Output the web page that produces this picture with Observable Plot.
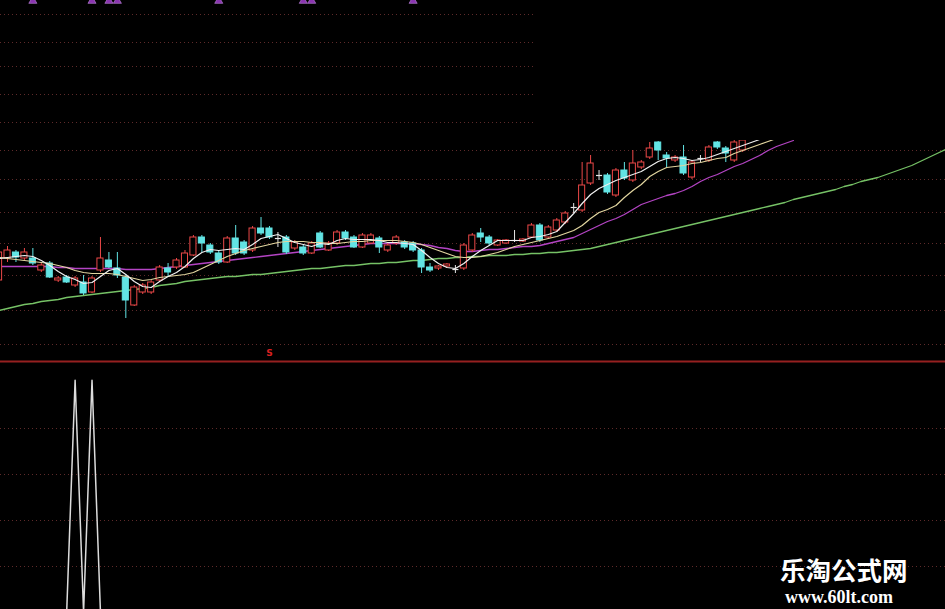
<!DOCTYPE html>
<html><head><meta charset="utf-8">
<script src="https://cdn.jsdelivr.net/npm/d3@7"></script>
<script src="https://cdn.jsdelivr.net/npm/@observablehq/plot@0.6"></script>
<style>
html,body{margin:0;padding:0;background:#000;}
#wrap{position:relative;width:945px;height:609px;overflow:hidden;background:#000;}
#wrap svg{display:block;overflow:hidden;}
.wm1{position:absolute;left:780px;top:556px;font-family:"Noto Sans CJK SC";font-weight:700;font-size:25.5px;line-height:1;color:#fff;white-space:nowrap;}
.wm2{position:absolute;left:785px;top:588px;font-family:"Liberation Serif","DejaVu Serif",serif;font-weight:700;font-size:18px;line-height:1;color:#fff;white-space:nowrap;}
</style></head>
<body>
<div id="wrap"></div>
<script>
// ---- price panel data (index = trading day) ----
const candleStart = -1;
const opens = [8.0,10.2,10.8,10.2,10.2,9.0,9.7,8.0,8.3,7.5,
 7.8,6.8,9.0,10.0,9.2,8.3,5.5,6.8,6.8,8.0,
 9.2,9.3,9.3,10.5,12.3,11.5,10.7,9.8,12.2,11.8,
 11.0,13.2,13.2,12.2,12.3,11.2,11.3,10.7,12.7,11.0,
 11.7,12.8,12.3,11.3,11.7,12.2,11.0,11.7,11.8,11.7,
 11.0,9.3,9.2,9.4,9.1,9.2,11.0,12.7,12.3,11.5,
 11.7,12.0,11.9,12.3,13.5,12.3,13.0,13.8,15.3,15.0,
 17.7,18.5,18.5,16.5,19.0,18.0,19.3,20.3,21.8,20.5,
 20.0,20.3,18.3,20.2,20.0,21.8,21.2,20.0,21.0];
const highs = [11.2,11.4,11.0,11.2,11.2,9.7,9.9,8.4,8.5,8.4,
 8.5,8.4,12.3,10.8,10.8,8.5,7.5,7.7,8.0,9.5,
 9.7,10.2,11.0,12.5,12.5,11.7,10.9,12.4,13.5,12.0,
 13.4,14.3,13.4,12.8,12.5,12.0,11.5,11.9,12.9,11.9,
 13.0,13.0,12.5,12.7,12.7,12.4,11.7,12.5,12.0,11.9,
 11.2,9.7,9.5,9.7,9.5,11.7,12.7,13.2,12.5,12.1,
 12.1,13.0,12.2,13.7,13.7,13.5,14.2,14.9,15.7,19.8,
 20.5,19.0,18.7,19.2,19.8,21.0,20.0,21.8,21.9,20.8,
 20.5,21.5,20.0,20.5,21.5,21.9,21.4,22.0,22.2];
const lows = [7.8,9.8,9.8,10.0,9.5,8.8,8.2,7.8,7.7,7.3,
 6.5,6.7,8.8,9.2,8.2,4.2,5.4,6.6,6.6,7.8,
 8.3,9.1,9.2,10.4,10.8,10.6,9.6,9.7,10.5,10.5,
 10.8,12.5,12.1,11.3,10.6,11.0,10.5,10.6,11.2,10.9,
 11.5,12.0,11.2,11.2,11.6,10.7,10.8,11.5,11.1,10.8,
 8.7,8.8,9.0,9.2,8.7,9.0,10.8,11.8,11.5,11.4,
 11.6,11.8,11.8,12.2,11.8,12.1,12.8,13.6,14.7,14.8,
 17.5,18.0,16.6,16.3,18.0,17.8,19.1,20.1,20.0,19.3,
 19.8,18.5,18.1,19.8,19.8,21.1,19.8,19.8,20.8];
const closes = [10.8,11.0,10.3,10.8,9.7,9.5,8.3,8.2,7.8,8.2,
 6.7,8.2,10.2,9.3,8.5,6.0,7.3,7.5,7.8,9.3,
 8.8,10.0,10.7,12.3,11.7,10.8,9.8,12.2,10.7,10.7,
 13.2,12.7,12.3,12.2,10.8,11.8,10.7,11.7,11.3,11.7,
 12.8,12.2,11.3,12.5,12.5,11.3,11.5,12.3,11.3,11.0,
 9.3,9.0,9.4,9.6,9.1,11.5,12.5,12.3,11.7,12.0,
 12.0,12.0,12.1,13.5,12.0,13.3,14.0,14.7,15.3,17.5,
 19.7,18.5,16.8,19.0,18.2,19.7,19.8,21.2,21.0,20.2,
 20.3,18.7,19.8,20.2,21.3,21.3,20.7,21.8,22.0];

// moving averages (start at index -1, like the candles)
const maStart = -1;
const ma5 = [10.2,10.3,10.4,10.5,10.4,10.0,9.5,8.9,8.4,8.1,7.7,
 7.8,8.4,9.0,9.2,8.6,7.9,7.4,7.3,7.9,8.4,
 8.8,9.4,10.2,10.8,11.1,11.0,11.1,11.2,11.1,11.6,
 12.2,12.4,12.6,12.2,11.8,11.6,11.4,11.7,11.6,12.0,
 12.2,12.1,12.1,12.1,12.0,11.8,11.8,11.7,11.6,11.0,
 10.3,9.7,9.3,9.2,9.7,10.4,11.0,11.5,12.0,12.0,
 12.0,12.0,12.3,12.4,12.6,12.9,13.8,14.7,15.7,16.6,
 17.2,17.6,18.0,18.3,18.6,18.9,19.4,19.9,20.2,20.3,
 20.2,20.0,20.1,20.3,20.6,20.9,21.2,21.5,21.8,22.1,
 22.4];
const ma10 = [10.3,10.2,10.1,10.0,9.9,9.8,9.7,9.5,9.3,9.0,8.8,
 8.7,8.7,8.7,8.6,8.4,8.2,8.0,8.1,8.3,8.4,
 8.5,8.6,8.8,9.2,9.6,10.0,10.4,10.7,11.0,11.2,
 11.4,11.6,11.8,11.9,11.9,11.9,11.8,11.8,11.7,11.7,
 11.8,11.9,11.9,12.0,12.0,12.0,12.0,11.9,11.8,11.6,
 11.3,11.0,10.7,10.4,10.3,10.3,10.4,10.6,10.8,11.1,
 11.4,11.6,11.8,12.0,12.2,12.4,12.7,13.0,13.5,14.2,
 14.8,15.1,15.5,16.3,17.0,17.6,18.4,18.9,19.3,19.4,
 19.5,19.7,19.8,20.0,20.2,20.3,20.7,21.0,21.3,21.6,
 21.9,22.2];
const ma20 = [9.4,9.4,9.4,9.4,9.4,9.4,9.4,9.3,9.3,9.2,9.2,
 9.2,9.2,9.2,9.2,9.1,9.1,9.1,9.1,9.2,9.3,
 9.4,9.5,9.6,9.7,9.8,9.9,10.0,10.1,10.2,10.3,
 10.4,10.5,10.6,10.7,10.8,10.9,11.0,11.1,11.2,11.3,
 11.4,11.5,11.6,11.7,11.7,11.7,11.7,11.7,11.7,11.6,
 11.5,11.3,11.2,11.0,10.9,10.9,11.0,11.1,11.1,11.2,
 11.3,11.4,11.4,11.5,11.7,11.9,12.1,12.3,12.7,13.1,
 13.5,13.9,14.2,14.6,15.1,15.6,15.9,16.2,16.5,16.7,
 17.0,17.4,17.9,18.3,18.6,19.0,19.4,19.7,20.1,20.5,
 21.0,21.4,21.7,22.0];
const ma60 = [5.0,5.2,5.4,5.6,5.7,5.9,6.0,6.1,6.3,6.4,6.5,
 6.6,6.7,6.8,6.9,7.0,7.1,7.2,7.3,7.5,7.6,
 7.7,7.9,8.0,8.1,8.2,8.3,8.4,8.4,8.5,8.6,
 8.6,8.7,8.8,8.9,9.0,9.1,9.2,9.2,9.3,9.4,
 9.5,9.5,9.6,9.7,9.7,9.8,9.8,9.9,10.0,10.0,
 10.1,10.2,10.2,10.3,10.3,10.4,10.4,10.5,10.5,10.5,
 10.6,10.6,10.7,10.7,10.8,10.8,10.9,11.0,11.1,11.2,
 11.4,11.6,11.8,12.0,12.2,12.4,12.6,12.8,13.0,13.2,
 13.4,13.6,13.8,14.0,14.2,14.4,14.6,14.8,15.0,15.2,
 15.4,15.6,15.8,16.1,16.3,16.5,16.7,16.9,17.1,17.4,
 17.6,17.9,18.1,18.3,18.6,18.9,19.2,19.5,19.9,20.3,
 20.7,21.1];

const upperGrid = [34.6,31.8,29.4,26.6,23.8,21.0,18.1,14.8,11.7,8.5,5.0,1.6];
const topSignalDays = [3,10,12,13,25,35,36,48];
const signalTexts = [{i:31, label:"S"}];
const hiddenFromDay = 62.5, hiddenAbovePrice = 22.0;   // blanked corner of the screenshot

// ---- indicator panel data ----
const indicator = [0,0,0,0,0,0,0,0,101,0,
 101,0,0,0,0,0,0,0,0,0,
 0,0,0,0,0,0,0,0,0,0,
 0,0,0,0,0,0,0,0,0,0,
 0,0,0,0,0,0,0,0,0,0,
 0,0,0,0,0,0,0,0,0,0,
 0,0,0,0,0,0,0,0,0,0,
 0,0,0,0,0,0,0,0,0,0,
 0,0,0,0,0,0,0,0,0,0,
 0,0,0,0,0,0,0,0,0,0,
 0,0,0,0,0,0,0,0,0,0,
 0,0];
const lowerGrid = [20,40,60,80];

// ---- build ----
const W = 945;
const xDomain = [-0.83, 111.0];
const RED = "#ec4848", CYAN = "#62e4e4", DOJI = "#e6e6e6";
const GRID = "#5e2a2a";
const candles = opens.map((o,k)=>({i: candleStart+k, o, h: highs[k], l: lows[k], c: closes[k]}));
const ups = candles.filter(d=>d.c>d.o), downs = candles.filter(d=>d.c<d.o), dojis = candles.filter(d=>d.c===d.o);
const series = (arr, start=0) => arr.map((v,k)=>({i: start+k, v}));
const hw = 0.36;

const upper = Plot.plot({
  width: W, height: 360, margin: 0,
  x: {domain: xDomain, axis: null},
  y: {domain: [0, 36], axis: null},
  style: {background: "#000", overflow: "hidden"},
  marks: [
    Plot.ruleY(upperGrid, {stroke: GRID, strokeDasharray: "1,3", strokeWidth: 1}),
    Plot.line(series(ma60, maStart), {x: "i", y: "v", stroke: "#76c266", strokeWidth: 1.3}),
    Plot.line(series(ma20, maStart), {x: "i", y: "v", stroke: "#b444c4", strokeWidth: 1.3}),
    Plot.ruleX(ups, {x: "i", y1: "l", y2: "h", stroke: RED, strokeWidth: 1}),
    Plot.ruleX(downs, {x: "i", y1: "l", y2: "h", stroke: CYAN, strokeWidth: 1}),
    Plot.ruleX(dojis, {x: "i", y1: "l", y2: "h", stroke: DOJI, strokeWidth: 1}),
    Plot.rect(ups, {x1: d=>d.i-hw, x2: d=>d.i+hw, y1: "o", y2: "c", fill: "#000", stroke: RED, strokeWidth: 1}),
    Plot.rect(downs, {x1: d=>d.i-hw, x2: d=>d.i+hw, y1: "o", y2: "c", fill: CYAN, stroke: CYAN, strokeWidth: 1}),
    Plot.link(dojis, {x1: d=>d.i-hw, x2: d=>d.i+hw, y1: "o", y2: "c", stroke: DOJI, strokeWidth: 1.2}),
    Plot.line(series(ma10, maStart), {x: "i", y: "v", stroke: "#e2d6a0", strokeWidth: 1.2}),
    Plot.line(series(ma5, maStart), {x: "i", y: "v", stroke: "#f0f0f0", strokeWidth: 1.2}),
    Plot.rect([{}], {x1: hiddenFromDay, x2: xDomain[1] + 1, y1: hiddenAbovePrice, y2: 37, fill: "#000"}),
    Plot.dot(topSignalDays.map(i=>({i, v: 35.95})), {x: "i", y: "v", symbol: "triangle", r: 3, fill: "#8a34b0", stroke: "#b27ad0", strokeWidth: 0.7}),
    Plot.text(signalTexts, {x: "i", y: 0.7, text: "label", fill: "#d82020", fontSize: 9, fontWeight: "bold", fontFamily: "DejaVu Sans"})
  ]
});

const lowerTop = 252/2.3, lowerBottom = 3/2.3;
const lower = Plot.plot({
  width: W, height: 249, margin: 0,
  x: {domain: xDomain, axis: null},
  y: {domain: [lowerBottom, lowerTop], axis: null},
  style: {background: "#000", overflow: "hidden"},
  marks: [
    Plot.ruleY(lowerGrid, {stroke: GRID, strokeDasharray: "1,3", strokeWidth: 1}),
    Plot.ruleY([lowerTop], {stroke: "#962020", strokeWidth: 2, dy: 1}),
    Plot.line(series(indicator), {x: "i", y: "v", stroke: "#dcdcdc", strokeWidth: 1.5})
  ]
});

const wrap = document.getElementById("wrap");
wrap.appendChild(upper);
wrap.appendChild(lower);
const w1 = document.createElement("div"); w1.className = "wm1"; w1.textContent = "乐淘公式网";
const w2 = document.createElement("div"); w2.className = "wm2"; w2.textContent = "www.60lt.com";
wrap.appendChild(w1); wrap.appendChild(w2);
</script>
</body></html>
